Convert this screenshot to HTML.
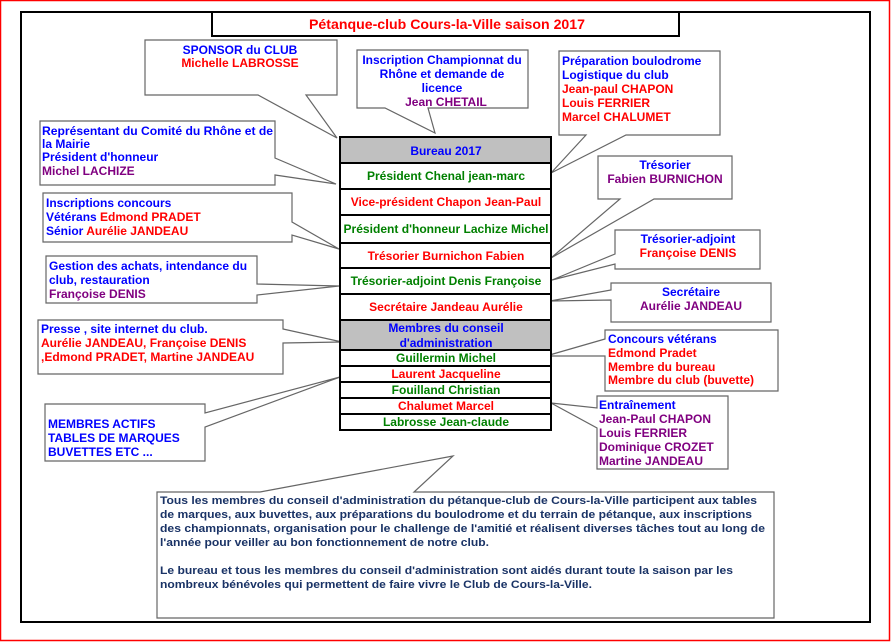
<!DOCTYPE html>
<html><head><meta charset="utf-8"><style>
html,body{margin:0;padding:0;background:#fff}
svg{display:block;font-family:"Liberation Sans",Arial,sans-serif;font-weight:bold}
.c{fill:#fff;stroke:#666;stroke-width:1.2}
.b{fill:#0000ff}.r{fill:#ff0000}.p{fill:#800080}.g{fill:#008000}.n{fill:#1a3366}
</style></head><body>
<svg width="891" height="642" viewBox="0 0 891 642" xmlns="http://www.w3.org/2000/svg">
<rect x="0.5" y="0.5" width="889" height="640" fill="#fff" stroke="#ff0000" stroke-width="1.5"/>
<rect x="21" y="12" width="849" height="610" fill="#fff" stroke="#000" stroke-width="2"/>
<rect x="212" y="12" width="467" height="24" fill="#fff" stroke="#000" stroke-width="2"/>
<text x="447" y="29" font-size="14" text-anchor="middle" class="r" textLength="276" lengthAdjust="spacingAndGlyphs">Pétanque-club Cours-la-Ville saison 2017</text>

<g font-size="12">
<path class="c" d="M145,40H337V95H306L337,138L258,95H145Z"/>
<text x="240" y="54" text-anchor="middle" class="b">SPONSOR du CLUB</text>
<text x="240" y="67" text-anchor="middle" class="r">Michelle LABROSSE</text>

<path class="c" d="M357,50H528V108H428L435,133L385,108H357Z"/>
<text x="442" y="64" text-anchor="middle" class="b">Inscription Championnat du</text>
<text x="442" y="78" text-anchor="middle" class="b">Rhône et demande de</text>
<text x="442" y="92" text-anchor="middle" class="b">licence</text>
<text x="446" y="106" text-anchor="middle" class="p">Jean CHETAIL</text>

<path class="c" d="M559,51H720V135H626L551,173L586,135H559Z"/>
<text x="562" y="65" class="b">Préparation boulodrome</text>
<text x="562" y="79" class="b">Logistique du club</text>
<text x="562" y="93" class="r">Jean-paul CHAPON</text>
<text x="562" y="107" class="r">Louis FERRIER</text>
<text x="562" y="121" class="r">Marcel CHALUMET</text>

<path class="c" d="M40,121H275V158L336,184L275,175V185H40Z"/>
<text x="42" y="135" class="b" textLength="231" lengthAdjust="spacingAndGlyphs">Représentant du Comité du Rhône et de</text>
<text x="42" y="148" class="b">la Mairie</text>
<text x="42" y="161" class="b">Président d'honneur</text>
<text x="42" y="175" class="p">Michel LACHIZE</text>

<path class="c" d="M43,193H292V222L339,249L292,235V242H43Z"/>
<text x="46" y="207" class="b">Inscriptions concours</text>
<text x="46" y="221"><tspan class="b">Vétérans </tspan><tspan class="r">Edmond PRADET</tspan></text>
<text x="46" y="235"><tspan class="b">Sénior </tspan><tspan class="r">Aurélie JANDEAU</tspan></text>

<path class="c" d="M46,256H257V284L339,286L257,295V303H46Z"/>
<text x="49" y="270" class="b">Gestion des achats, intendance du</text>
<text x="49" y="284" class="b">club, restauration</text>
<text x="49" y="298" class="p">Françoise DENIS</text>

<path class="c" d="M38,320H283V329L342,342L283,343V374H38Z"/>
<text x="41" y="333" class="b">Presse , site internet du club.</text>
<text x="41" y="347" class="r">Aurélie JANDEAU, Françoise DENIS</text>
<text x="41" y="361" class="r">,Edmond PRADET, Martine JANDEAU</text>

<path class="c" d="M45,404H205V413L340,377L205,427V461H45Z"/>
<text x="48" y="428" class="b">MEMBRES ACTIFS</text>
<text x="48" y="442" class="b">TABLES DE MARQUES</text>
<text x="48" y="456" class="b">BUVETTES ETC ...</text>

<path class="c" d="M157,492H260L453,456L414,492H774V618H157Z"/>
<g class="n" font-size="11">
<text x="160" y="504" textLength="597" lengthAdjust="spacingAndGlyphs">Tous les membres du conseil d'administration du pétanque-club de Cours-la-Ville participent aux tables</text>
<text x="160" y="518" textLength="592" lengthAdjust="spacingAndGlyphs">de marques, aux buvettes, aux préparations du boulodrome et du terrain de pétanque, aux inscriptions</text>
<text x="160" y="532" textLength="605" lengthAdjust="spacingAndGlyphs">des championnats, organisation pour le challenge de l'amitié et réalisent diverses tâches  tout au long de</text>
<text x="160" y="546" textLength="329" lengthAdjust="spacingAndGlyphs">l'année pour veiller au bon fonctionnement de notre club.</text>
<text x="160" y="574" textLength="573" lengthAdjust="spacingAndGlyphs">Le bureau et tous les membres du conseil d'administration sont aidés durant toute la saison par les</text>
<text x="160" y="588" textLength="432" lengthAdjust="spacingAndGlyphs">nombreux bénévoles qui permettent de faire vivre le Club de Cours-la-Ville.</text>
</g>

<path class="c" d="M598,156H732V199H654L551,258L620,199H598Z"/>
<text x="665" y="169" text-anchor="middle" class="b">Trésorier</text>
<text x="665" y="183" text-anchor="middle" class="p">Fabien BURNICHON</text>

<path class="c" d="M615,230H760V269H615V264L552,280L615,254Z"/>
<text x="688" y="243" text-anchor="middle" class="b">Trésorier-adjoint</text>
<text x="688" y="257" text-anchor="middle" class="r">Françoise DENIS</text>

<path class="c" d="M611,283H771V322H611V300L550,301L611,290Z"/>
<text x="691" y="296" text-anchor="middle" class="b">Secrétaire</text>
<text x="691" y="310" text-anchor="middle" class="p">Aurélie JANDEAU</text>

<path class="c" d="M605,330H778V391H605V356L546,356L605,339Z"/>
<text x="608" y="343" class="b">Concours vétérans</text>
<text x="608" y="357" class="r">Edmond Pradet</text>
<text x="608" y="371" class="r">Membre du bureau</text>
<text x="608" y="384" class="r">Membre du club (buvette)</text>

<path class="c" d="M597,396H728V469H597V428L551,403L597,408Z"/>
<text x="599" y="409" class="b">Entraînement</text>
<text x="599" y="423" class="p">Jean-Paul CHAPON</text>
<text x="599" y="437" class="p">Louis FERRIER</text>
<text x="599" y="451" class="p">Dominique CROZET</text>
<text x="599" y="465" class="p">Martine JANDEAU</text>
</g>

<g stroke="#000" stroke-width="2">
<rect x="340" y="137" width="211" height="26" fill="#c0c0c0"/>
<rect x="340" y="163" width="211" height="26" fill="#fff"/>
<rect x="340" y="189" width="211" height="26" fill="#fff"/>
<rect x="340" y="215" width="211" height="28" fill="#fff"/>
<rect x="340" y="243" width="211" height="25" fill="#fff"/>
<rect x="340" y="268" width="211" height="26" fill="#fff"/>
<rect x="340" y="294" width="211" height="26" fill="#fff"/>
<rect x="340" y="320" width="211" height="30" fill="#c0c0c0"/>
<rect x="340" y="350" width="211" height="16" fill="#fff"/>
<rect x="340" y="366" width="211" height="16" fill="#fff"/>
<rect x="340" y="382" width="211" height="16" fill="#fff"/>
<rect x="340" y="398" width="211" height="16" fill="#fff"/>
<rect x="340" y="414" width="211" height="16" fill="#fff"/>
</g>
<g font-size="12" text-anchor="middle">
<text x="446" y="155" class="b">Bureau 2017</text>
<text x="446" y="180" class="g">Président  Chenal jean-marc</text>
<text x="446" y="206" class="r">Vice-président Chapon Jean-Paul</text>
<text x="446" y="233" class="g" textLength="205" lengthAdjust="spacingAndGlyphs">Président d'honneur Lachize Michel</text>
<text x="446" y="260" class="r">Trésorier Burnichon Fabien</text>
<text x="446" y="285" class="g">Trésorier-adjoint Denis Françoise</text>
<text x="446" y="311" class="r">Secrétaire Jandeau Aurélie</text>
<text x="446" y="332" class="b">Membres du conseil</text>
<text x="446" y="347" class="b">d'administration</text>
<text x="446" y="362" class="g">Guillermin Michel</text>
<text x="446" y="378" class="r">Laurent Jacqueline</text>
<text x="446" y="394" class="g">Fouilland Christian</text>
<text x="446" y="410" class="r">Chalumet Marcel</text>
<text x="446" y="426" class="g">Labrosse Jean-claude</text>
</g>
</svg>
</body></html>
